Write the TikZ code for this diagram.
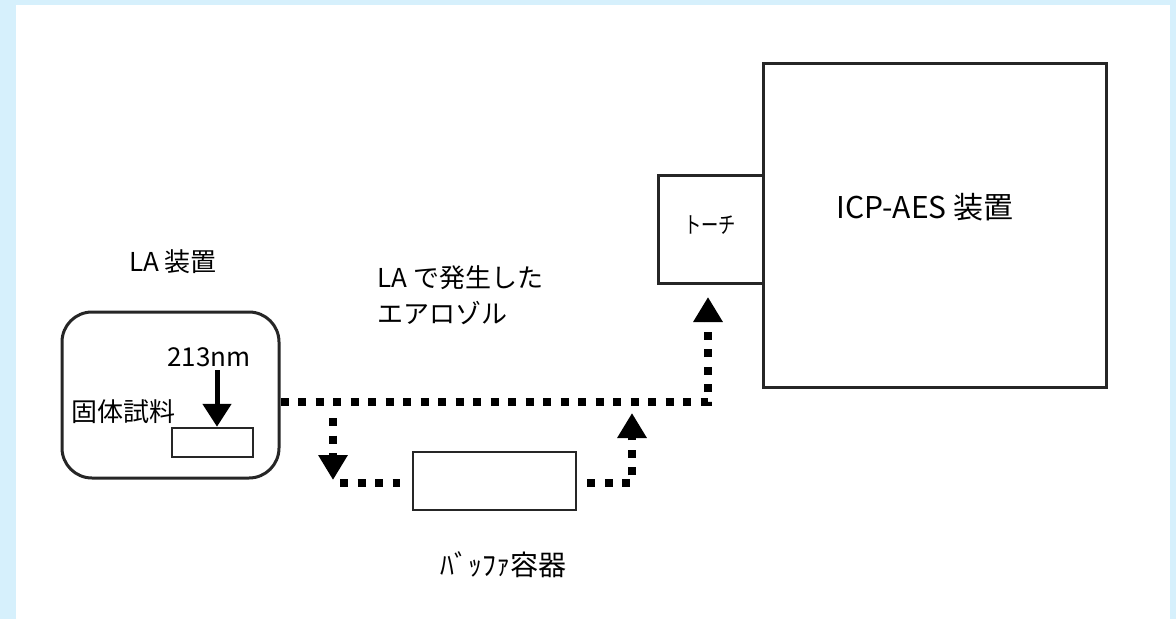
\documentclass[tikz,border=0pt]{standalone}
\usepackage{fontspec}
\setmainfont{Noto Sans CJK JP}
\usetikzlibrary{arrows.meta,calc}
\definecolor{frameblue}{HTML}{D6F0FC}
\tikzset{
  box/.style={draw=black!85,line width=3pt,fill=white,inner sep=0pt},
  flow/.style={line width=8pt,dash pattern=on 8pt off 9.5pt,black},
  flowtip/.style={-{Triangle[width=28pt,length=25pt]}},
  lbl/.style={inner sep=0pt,font=\fontsize{26}{30}\selectfont},
}
\begin{document}
\begin{tikzpicture}[x=1pt,y=-1pt]
\fill[frameblue] (0,0) rectangle (1176,619);
\fill[white] (16,5) rectangle (1170,619);
\useasboundingbox (0,0) rectangle (1176,619);

% LA apparatus
\node[box,rounded corners=30pt,minimum width=217pt,minimum height=166pt] (la) at (170.5,395) {};
\node[lbl] (latext) at (173,262) {LA 装置};
\node[box,line width=2.5pt,minimum width=81pt,minimum height=29pt] (sample) at (212.5,442.5) {};
\node[lbl] (nm) at (209,357) {213nm};
\node[lbl] (solid) at (123,412) {固体試料};
\draw[line width=5pt,-{Triangle[width=28pt,length=23pt]}] (217,370) -- (sample.north -| 217,0);

% ICP-AES
\node[box,minimum width=343pt,minimum height=324pt] (icp) at (934.5,225) {};
\node[lbl,font=\fontsize{30}{34}\selectfont] (icptext) at (925,207) {ICP-AES 装置};
\node[box,minimum width=105pt,minimum height=108pt] (torch) at (710.5,229) {};
\node[lbl,font=\fontsize{23}{26}\selectfont] (torchtext) at (710,225) {\scalebox{0.75}[1]{トーチ}};

% buffer
\node[box,line width=2.5pt,minimum width=163pt,minimum height=58pt] (buf) at (494.5,481) {};
\node[lbl,font=\fontsize{28}{32}\selectfont] (buftext) at (503,565) {ﾊﾞｯﾌｧ容器};

% aerosol label
\node[lbl,anchor=west] (aero1) at (377,278) {LA で発生した};
\node[lbl,anchor=west] (aero2) at (377,313) {エアロゾル};

% flow lines
\coordinate (j1) at (708,402);
\coordinate (tt) at (708,297);
\coordinate (d1) at (333,402);
\coordinate (d2) at (333,480);
\coordinate (b1) at (340,483);
\coordinate (r1) at (632,483);
\coordinate (r2) at (632,413);
\draw[flow,flowtip] (la.east |- j1) -- (j1) -- (tt);
\draw[flow,flowtip] (d1) ++(0,16) -- (d2);
\draw[flow] (b1) -- ($(buf.west |- b1)+(-12,0)$);
\draw[flow,flowtip] ($(buf.east |- r1)+(10,0)$) -- (r1) -- (r2);
\end{tikzpicture}
\end{document}
